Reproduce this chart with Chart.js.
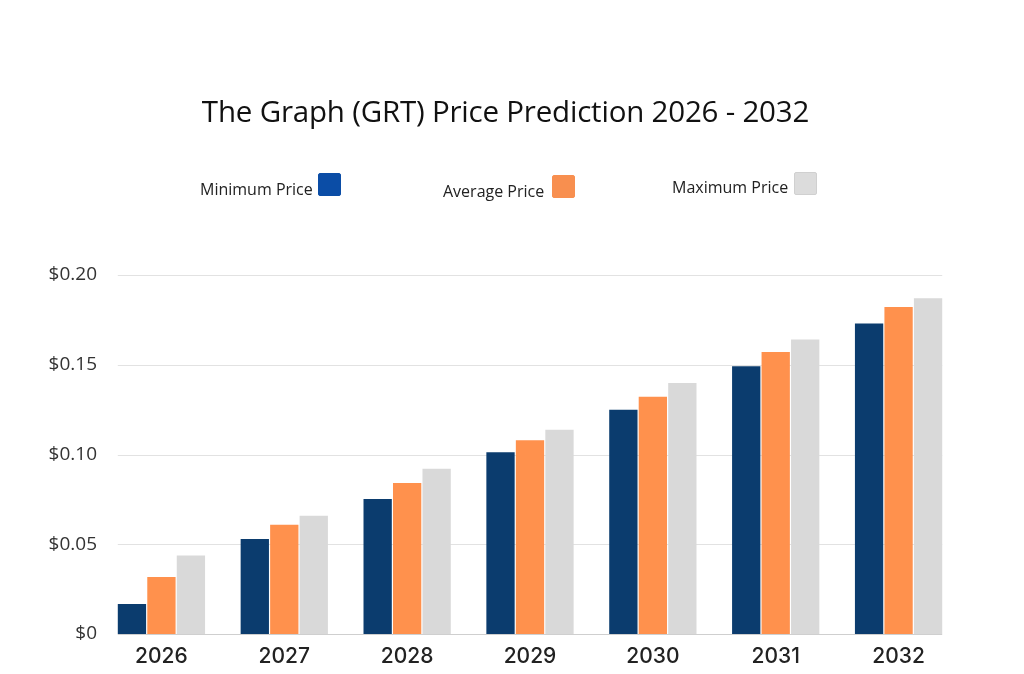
<!DOCTYPE html>
<html>
<head>
<meta charset="utf-8">
<script src="https://cdn.jsdelivr.net/npm/chart.js"></script>
<style>
  html, body { margin: 0; padding: 0; background: #fff; }
  #wrap { position: relative; width: 1024px; height: 674px; }
  canvas { position: absolute; left: 0; top: 0; }
  #title {
    position: absolute; left: 0; width: 1011px; top: 90px;
    text-align: center; font-family: "Open Sans", sans-serif;
    font-size: 29.5px; color: #111; letter-spacing: -0.2px;
  }
  .leg { position: absolute; font-family: "Open Sans", sans-serif; font-size: 16px; color: #222; }
  .box { position: absolute; width: 23px; height: 23px; box-sizing: border-box; border-radius: 2px; }
</style>
</head>
<body>
<div id="wrap">
  <canvas id="priceChart" width="1024" height="674"></canvas>
  <div id="title">The Graph (GRT) Price Prediction 2026 - 2032</div>
</div>

<script>
const years = ["2026", "2027", "2028", "2029", "2030", "2031", "2032"];
const minPrice = [0.0167, 0.0529, 0.0752, 0.1012, 0.1250, 0.1491, 0.1730];
const avgPrice = [0.0318, 0.0609, 0.0841, 0.1079, 0.1322, 0.1571, 0.1822];
const maxPrice = [0.0438, 0.0659, 0.0921, 0.1138, 0.1398, 0.1640, 0.1870];
const seriesNames = ["Minimum Price", "Average Price", "Maximum Price"];
const barColors = ["#0b3c6e", "#ff914d", "#d9d9d9"];
const legendColors = ["#0b4da6", "#f88f4f", "#dcdcdc"];
const yTicks = [0, 0.05, 0.10, 0.15, 0.20];

// legend sits above the plot: text first, then the swatch
const legendSpots = [
  { x: 200, y: 178, bx: 318, by: 173 },
  { x: 443, y: 180, bx: 552, by: 175 },
  { x: 672, y: 176, bx: 794, by: 172 }
];
const wrap = document.getElementById("wrap");
seriesNames.forEach((name, i) => {
  const t = document.createElement("div");
  t.className = "leg";
  t.textContent = name;
  t.style.left = legendSpots[i].x + "px";
  t.style.top = legendSpots[i].y + "px";
  wrap.appendChild(t);
  const b = document.createElement("div");
  b.className = "box";
  b.style.left = legendSpots[i].bx + "px";
  b.style.top = legendSpots[i].by + "px";
  b.style.background = legendColors[i];
  b.style.border = "1px solid " + (i === 2 ? "#d0d0d0" : legendColors[i]);
  wrap.appendChild(b);
});

// gridlines only span from the first bar to the last one
const shortGrid = {
  id: "shortGrid",
  beforeDatasetsDraw(chart) {
    const first = chart.getDatasetMeta(0).data[0];
    const last = chart.getDatasetMeta(2).data[years.length - 1];
    if (!first || !last) return;
    const x0 = first.x - first.width / 2;
    const x1 = last.x + last.width / 2;
    const y = chart.scales.y;
    const ctx = chart.ctx;
    ctx.save();
    ctx.lineWidth = 1;
    yTicks.forEach(v => {
      const py = Math.round(y.getPixelForValue(v)) + 0.5;
      ctx.strokeStyle = v === 0 ? "#cfcfcf" : "#e2e2e2";
      ctx.beginPath();
      ctx.moveTo(x0, py);
      ctx.lineTo(x1, py);
      ctx.stroke();
    });
    ctx.restore();
  }
};

const datasets = [minPrice, avgPrice, maxPrice].map((vals, i) => ({
  label: seriesNames[i],
  data: vals,
  backgroundColor: barColors[i],
  borderWidth: 0,
  barPercentage: 0.96,
  categoryPercentage: 0.72
}));

new Chart(document.getElementById("priceChart"), {
  type: "bar",
  data: { labels: years, datasets: datasets },
  plugins: [shortGrid],
  options: {
    responsive: false,
    animation: false,
    layout: { padding: { top: 275, right: 64, left: 0, bottom: 0 } },
    plugins: {
      legend: { display: false },
      tooltip: { enabled: false }
    },
    scales: {
      x: {
        grid: { display: false, drawTicks: false },
        border: { display: false },
        ticks: {
          padding: 10,
          color: "#222",
          font: { family: "Inter", size: 21, weight: "500" }
        },
        afterFit(scale) { scale.height = 40; }
      },
      y: {
        min: 0,
        max: 0.20,
        grid: { display: false, drawTicks: false },
        border: { display: false },
        afterBuildTicks(scale) { scale.ticks = yTicks.map(v => ({ value: v })); },
        afterFit(scale) { scale.width = 100; },
        ticks: {
          padding: 3,
          color: "#333",
          font: { family: "Open Sans", size: 19 },
          callback(v) { return v === 0 ? "$0" : "$" + v.toFixed(2); }
        }
      }
    }
  }
});
</script>
</body>
</html>
